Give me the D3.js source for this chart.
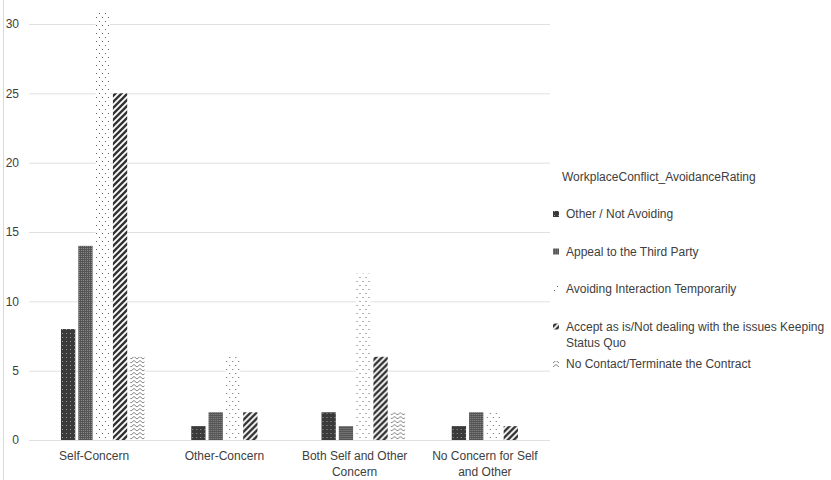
<!DOCTYPE html>
<html>
<head>
<meta charset="utf-8">
<script src="https://cdn.jsdelivr.net/npm/d3@7"></script>
<style>
  body { margin: 0; background: #fff; }
  text { font-family: "Liberation Sans", Arial, sans-serif; font-size: 12px; fill: #404040; }
</style>
</head>
<body>
<div></div>
<script>
const width = 831;
const height = 480;

// data
const categories = ["Self-Concern", "Other-Concern", "Both Self and Other Concern", "No Concern for Self and Other"];
const seriesNames = [
  "Other / Not Avoiding",
  "Appeal to the Third Party",
  "Avoiding Interaction Temporarily",
  "Accept as is/Not dealing with the issues Keeping Status Quo",
  "No Contact/Terminate the Contract"
];
const otherNotAvoiding = [8, 1, 2, 1];
const appealThirdParty = [14, 2, 1, 2];
const avoidingTemporarily = [31, 6, 12, 2];
const acceptStatusQuo = [25, 2, 6, 1];
const noContact = [6, 0, 2, 0];
const yTicks = [0, 5, 10, 15, 20, 25, 30];
const legendTitle = "WorkplaceConflict_AvoidanceRating";

const seriesValues = [otherNotAvoiding, appealThirdParty, avoidingTemporarily, acceptStatusQuo, noContact];

const svg = d3.select("div").append("svg")
  .attr("width", width)
  .attr("height", height);

// patterns
const defs = svg.append("defs");

function pat(id, w, h) {
  return defs.append("pattern")
    .attr("id", id)
    .attr("patternUnits", "userSpaceOnUse")
    .attr("width", w)
    .attr("height", h);
}

// dark with light dots
let p0 = pat("p0", 4, 4);
p0.append("rect").attr("width", 4).attr("height", 4).attr("fill", "#3a3a3a");
p0.append("rect").attr("x", 1).attr("y", 1).attr("width", 1).attr("height", 1).attr("fill", "#9a9a9a");

// checker gray
let p1 = pat("p1", 2, 2);
p1.append("rect").attr("width", 2).attr("height", 2).attr("fill", "#555");
p1.append("rect").attr("x", 0).attr("y", 0).attr("width", 1).attr("height", 1).attr("fill", "#8a8a8a");

// sparse dots
let p2 = pat("p2", 6, 8);
p2.append("rect").attr("width", 6).attr("height", 8).attr("fill", "#fff");
p2.append("rect").attr("x", 1).attr("y", 1).attr("width", 1).attr("height", 1).attr("fill", "#666");
p2.append("rect").attr("x", 4).attr("y", 5).attr("width", 1).attr("height", 1).attr("fill", "#666");

// wide diagonal
let p3 = pat("p3", 6, 6);
p3.append("rect").attr("width", 6).attr("height", 6).attr("fill", "#fff");
p3.append("path").attr("d", "M-1,1 L1,-1 M0,6 L6,0 M5,7 L7,5")
  .attr("stroke", "#333").attr("stroke-width", 2.4);

// zigzag
let p4 = pat("p4", 6, 4);
p4.append("rect").attr("width", 6).attr("height", 4).attr("fill", "#fff");
p4.append("path").attr("d", "M0,3 L3,0.5 L6,3")
  .attr("stroke", "#777").attr("stroke-width", 0.9).attr("fill", "none");

const fills = ["url(#p0)", "url(#p1)", "url(#p2)", "url(#p3)", "url(#p4)"];

// frame line on the left
svg.append("line")
  .attr("x1", 3.5).attr("x2", 3.5)
  .attr("y1", 0).attr("y2", height)
  .attr("stroke", "#d9d9d9");

// scales
const y = d3.scaleLinear().domain([0, 30]).range([440, 24]);
const x0 = d3.scaleBand().domain(categories).range([29, 550]);
const x1 = d3.scaleBand().domain(d3.range(seriesNames.length))
  .range([32, 115.5]).paddingInner(3 / 17.2);

// y axis with gridlines
const yAxis = svg.append("g")
  .attr("transform", "translate(29,0)")
  .call(d3.axisLeft(y).tickValues(yTicks).tickSize(-521).tickPadding(10));
yAxis.select(".domain").remove();
yAxis.selectAll(".tick line").attr("stroke", "#e0e0e0");
yAxis.selectAll(".tick text")
  .attr("fill", "#404040")
  .style("font-family", "'Liberation Sans', Arial, sans-serif")
  .style("font-size", "12px");

// bars
const groups = svg.append("g")
  .selectAll("g")
  .data(categories)
  .join("g")
  .attr("transform", d => "translate(" + x0(d) + ",0)");

groups.selectAll("rect")
  .data((d, i) => seriesValues.map((vals, s) => ({ s: s, v: vals[i] })))
  .join("rect")
  .attr("x", d => x1(d.s))
  .attr("width", x1.bandwidth())
  .attr("y", d => y(d.v))
  .attr("height", d => y(0) - y(d.v))
  .attr("fill", d => fills[d.s]);

// category labels, wrapped
function wrap(textSel, maxW, lineH) {
  textSel.each(function () {
    const t = d3.select(this);
    const words = t.text().split(/\s+/);
    const x = t.attr("x");
    t.text(null);
    let line = [];
    let tspan = t.append("tspan").attr("x", x).attr("dy", 0);
    words.forEach(w => {
      line.push(w);
      tspan.text(line.join(" "));
      if (tspan.node().getComputedTextLength() > maxW && line.length > 1) {
        line.pop();
        tspan.text(line.join(" "));
        line = [w];
        tspan = t.append("tspan").attr("x", x).attr("dy", lineH).text(w);
      }
    });
  });
}

svg.append("g")
  .selectAll("text")
  .data(categories)
  .join("text")
  .attr("x", d => x0(d) + x0.bandwidth() / 2)
  .attr("y", 460)
  .attr("text-anchor", "middle")
  .text(d => d)
  .call(wrap, 118, 16);

// legend
svg.append("text")
  .attr("x", 562)
  .attr("y", 181)
  .text(legendTitle);

const legend = svg.append("g")
  .selectAll("g")
  .data(seriesNames)
  .join("g")
  .attr("transform", (d, i) => "translate(553," + (214 + i * 37.5) + ")");

legend.append("rect")
  .attr("x", 0)
  .attr("y", -3)
  .attr("width", 6)
  .attr("height", 6)
  .attr("fill", (d, i) => fills[i]);

legend.append("text")
  .attr("x", 13)
  .attr("y", 4)
  .text(d => d)
  .call(wrap, 266, 16);
</script>
</body>
</html>
